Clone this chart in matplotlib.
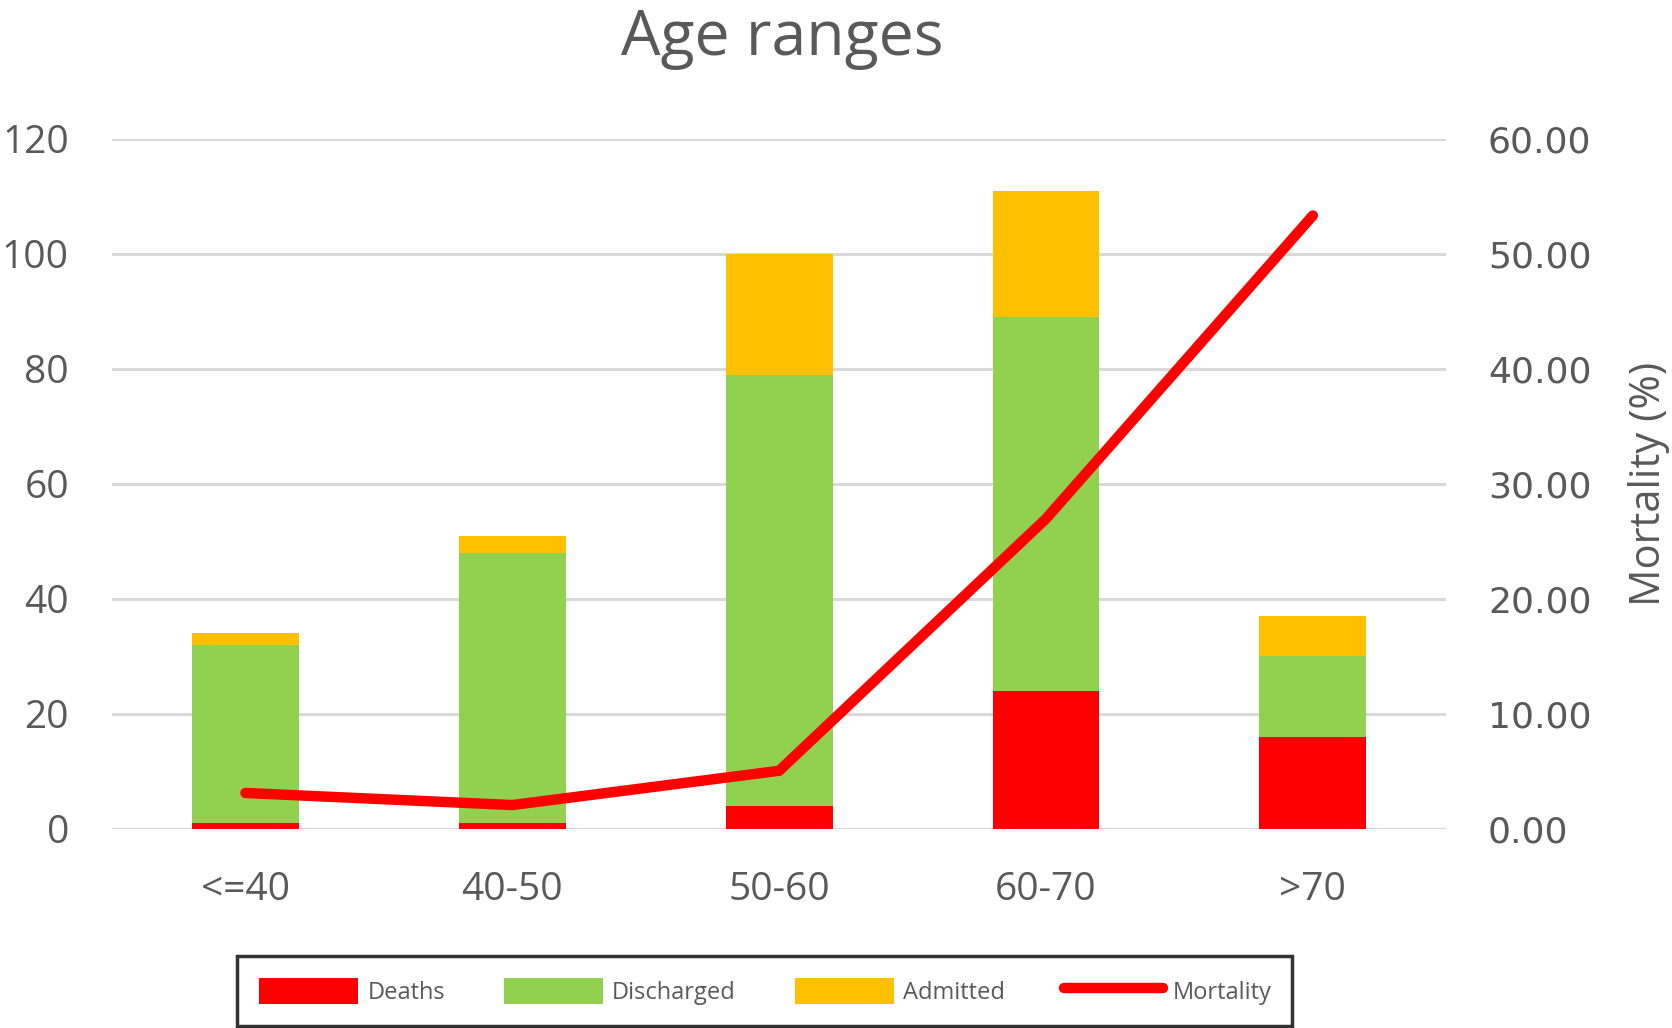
import matplotlib.pyplot as plt
import numpy as np

# values
age_groups = ['<=40', '40-50', '50-60', '60-70', '>70']
deaths = [1, 1, 4, 24, 16]
discharged = [31, 47, 75, 65, 14]
admitted = [2, 3, 21, 22, 7]
mortality = [3.13, 2.08, 5.06, 26.97, 53.33]

text_color = '#595959'
plt.rcParams['font.family'] = ['Open Sans', 'DejaVu Sans']

fig = plt.figure(figsize=(16.72, 10.28), dpi=100)
ax = fig.add_axes([0.067, 0.1936, 0.798, 0.6714])

x = np.arange(len(age_groups))
w = 0.4
deaths_arr = np.array(deaths)
dis_arr = np.array(discharged)

b1 = ax.bar(x, deaths, w, color='#ff0000', label='Deaths', zorder=2)
b2 = ax.bar(x, discharged, w, bottom=deaths_arr, color='#92d050', label='Discharged', zorder=2)
b3 = ax.bar(x, admitted, w, bottom=deaths_arr + dis_arr, color='#ffc000', label='Admitted', zorder=2)

ax.set_xlim(-0.5, 4.5)
ax.set_ylim(0, 120)
ax.set_yticks(range(0, 121, 20))
ax.set_xticks(x)
ax.set_xticklabels(age_groups)
ax.yaxis.grid(True, color='#d9d9d9', linewidth=2.2)
ax.set_axisbelow(True)
for s in ax.spines.values():
    s.set_visible(False)
ax.tick_params(axis='both', length=0, labelsize=28, colors=text_color)
ax.tick_params(axis='y', pad=31)
ax.tick_params(axis='x', pad=30)

# secondary axis for mortality
ax2 = ax.twinx()
line, = ax2.plot(x, mortality, color='#ff0000', linewidth=7.5,
                 solid_capstyle='round', solid_joinstyle='miter', label='Mortality')
ax2.set_ylim(0, 60)
ax2.set_yticks(range(0, 61, 10))
ax2.yaxis.set_major_formatter(lambda v, pos: f'{v:.2f}')
for s in ax2.spines.values():
    s.set_visible(False)
ax2.tick_params(axis='y', length=0, pad=30, colors=text_color)
for lab in ax2.get_yticklabels():
    lab.set_fontfamily('DejaVu Sans')
    lab.set_fontsize(26)
ax2.set_ylabel('Mortality (%)', fontsize=30, color=text_color, labelpad=26)

fig.text(0.468, 0.962, 'Age ranges', ha='center', va='center', fontsize=45, color=text_color)

leg = fig.legend([b1, b2, b3, line], ['Deaths', 'Discharged', 'Admitted', 'Mortality'],
                 loc='lower left', bbox_to_anchor=(0.142, 0.002, 0.631, 0.067),
                 mode='expand', ncol=4, fontsize=17, frameon=True, fancybox=False,
                 edgecolor='black', handlelength=4.2, handleheight=1.35, handletextpad=0.4,
                 borderpad=0.9, borderaxespad=0, labelcolor=text_color)
leg.get_frame().set_linewidth(2.5)

fig.savefig('out.png', dpi=100, facecolor='white')
